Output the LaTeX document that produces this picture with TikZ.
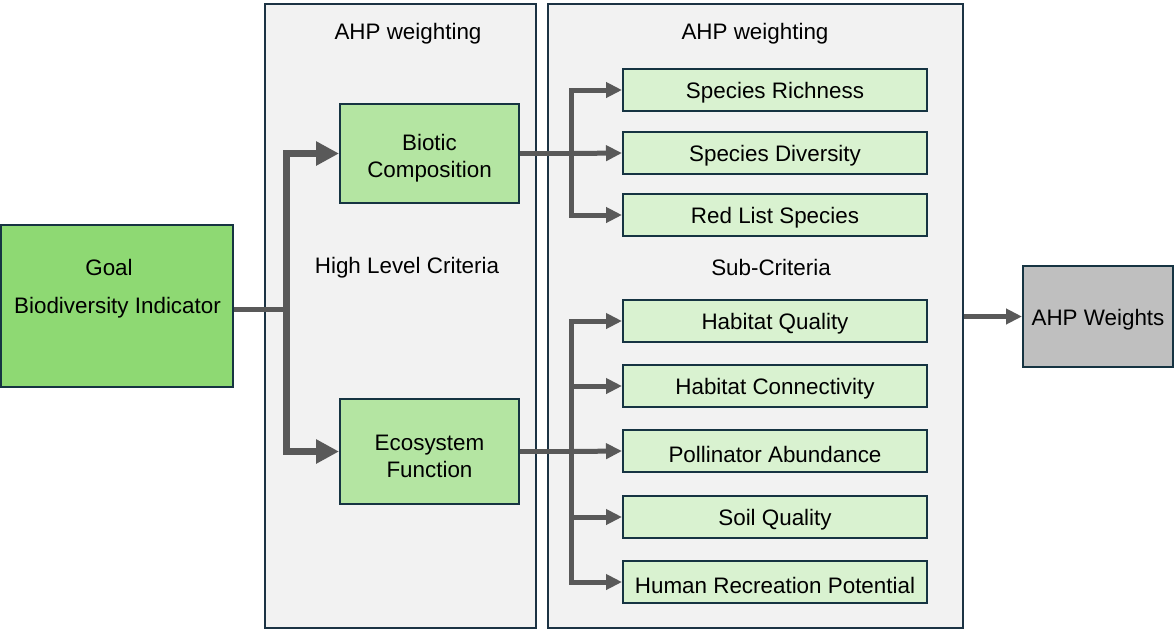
\documentclass[tikz,border=0pt]{standalone}
\usepackage{fontspec}
\setmainfont{Liberation Sans}
\usetikzlibrary{arrows.meta}
\definecolor{panelfill}{HTML}{F2F2F2}
\definecolor{paneledge}{HTML}{1C3344}
\definecolor{boxedge}{HTML}{163442}
\definecolor{goalfill}{HTML}{8ED973}
\definecolor{critfill}{HTML}{B4E5A2}
\definecolor{subfill}{HTML}{D9F2D0}
\definecolor{ahpfill}{HTML}{BFBFBF}
\definecolor{arrowgrey}{HTML}{595959}
\tikzset{
  txt/.style={font=\fontsize{22.4}{27}\selectfont, inner sep=0pt, align=center, text=black, yshift=-3pt},
  txttwo/.style={txt, yshift=1.5pt},
  panel/.style={draw=paneledge, fill=panelfill, line width=1.5pt, inner sep=0pt},
  goalbox/.style={draw=boxedge, fill=goalfill, line width=2pt, inner sep=0pt, minimum width=232pt, minimum height=162pt},
  critbox/.style={draw=boxedge, fill=critfill, line width=2pt, inner sep=0pt, minimum width=179pt},
  subbox/.style={draw=boxedge, fill=subfill, line width=2pt, inner sep=0pt, minimum width=304pt, minimum height=42pt},
  ahpbox/.style={draw=boxedge, fill=ahpfill, line width=2pt, inner sep=0pt, minimum width=150pt, minimum height=101pt},
  bigarrow/.style={draw=arrowgrey, line width=7.5pt, line join=miter, -{Triangle[length=23pt,width=23pt]}},
  midarrow/.style={draw=arrowgrey, line width=5pt, line join=miter, -{Triangle[length=16pt,width=15pt]}},
  link/.style={draw=arrowgrey, line width=5pt},
}
\begin{document}
\begin{tikzpicture}[x=1pt,y=-1pt]
\useasboundingbox (0,0) rectangle (1174,630);
% panels
\node[panel, minimum width=271pt, minimum height=624pt] (lpanel) at (400.5,316) {};
\node[panel, minimum width=415pt, minimum height=624pt] (rpanel) at (755.5,316) {};
\node[txt] (lhead) at (408,31) {AHP weighting};
\node[txt] (rhead) at (755,31) {AHP weighting};
\node[txt] (hlc) at (407,265) {High Level Criteria};
\node[txt] (subc) at (771,264.5) {Sub-Criteria};
% goal
\node[goalbox] (goal) at (117,306) {};
\node[txt] (goalt) at (109,264) {Goal};
\node[txt] (goalb) at (117.5,305) {Biodiversity Indicator};
% criteria
\node[critbox, minimum height=99pt] (bio) at (429.5,153.5) {};
\node[txt, txttwo] (biot) at (bio.center) {Biotic\\Composition};
\node[critbox, minimum height=105pt] (eco) at (429.5,451.5) {};
\node[txt, txttwo] (ecot) at (eco.center) {Ecosystem\\Function};
% sub-criteria
\node[subbox] (sr) at (775,90) {};
\node[txt] (srt) at (sr.center) {Species Richness};
\node[subbox] (sd) at (775,153) {};
\node[txt] (sdt) at (sd.center) {Species Diversity};
\node[subbox] (rl) at (775,215) {};
\node[txt] (rlt) at (rl.center) {Red List Species};
\node[subbox] (hq) at (775,321) {};
\node[txt] (hqt) at (hq.center) {Habitat Quality};
\node[subbox] (hc) at (775,386) {};
\node[txt] (hct) at (hc.center) {Habitat Connectivity};
\node[subbox] (pa) at (775,451) {};
\node[txt] (pat) at (pa.center) {Pollinator Abundance};
\node[subbox] (sq) at (775,517) {};
\node[txt] (sqt) at (sq.center) {Soil Quality};
\node[subbox] (hr) at (775,582) {};
\node[txt] (hrt) at (hr.center) {Human Recreation Potential};
% AHP weights
\node[ahpbox] (ahp) at (1098,316.5) {};
\node[txt] (ahpt) at (ahp.center) {AHP Weights};
% connectors
\coordinate (j1) at (286.5,309);
\coordinate (j2) at (571,153.5);
\coordinate (j3) at (571,451.5);
\draw[link] (goal.east |- j1) -- (j1);
\draw[bigarrow] (j1) |- (bio.west);
\draw[bigarrow] (j1) |- (eco.west);
\draw[link] (bio.east) -- (j2);
\draw[midarrow] (j2) |- (sr.west);
\draw[midarrow] (j2) -- (sd.west);
\draw[midarrow] (j2) |- (rl.west);
\draw[link] (eco.east) -- (j3);
\draw[midarrow] (j3) |- (hq.west);
\draw[midarrow] (j3) |- (hc.west);
\draw[midarrow] (j3) -- (pa.west);
\draw[midarrow] (j3) |- (sq.west);
\draw[midarrow] (j3) |- (hr.west);
\draw[midarrow] (rpanel.east |- ahp.west) -- (ahp.west);
\end{tikzpicture}
\end{document}
